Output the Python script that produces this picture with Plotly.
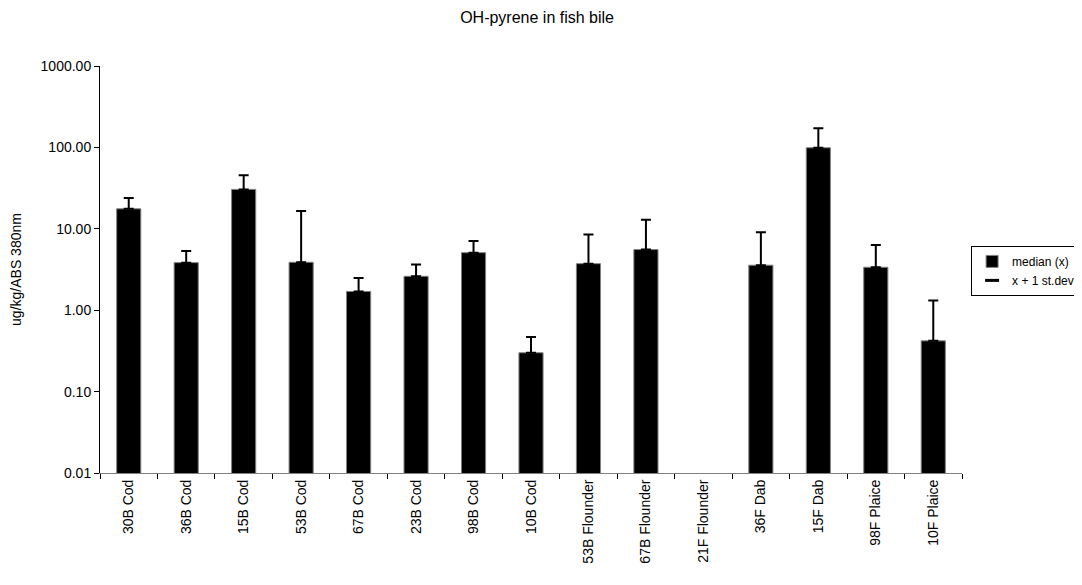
import plotly.graph_objects as go

categories = ["30B Cod", "36B Cod", "15B Cod", "53B Cod", "67B Cod", "23B Cod", "98B Cod",
              "10B Cod", "53B Flounder", "67B Flounder", "21F Flounder", "36F Dab", "15F Dab",
              "98F Plaice", "10F Plaice"]
median_x = [17.6, 3.84, 30.5, 3.88, 1.70, 2.61, 5.09, 0.30, 3.73, 5.56, None, 3.57, 99.0, 3.37, 0.42]
x_plus_sd = [23.9, 5.35, 45.5, 16.5, 2.48, 3.63, 7.1, 0.47, 8.5, 12.9, None, 9.1, 172.0, 6.34, 1.32]
ytick_vals = [0.01, 0.1, 1, 10, 100, 1000]

err_up = [(t - m) if (t is not None and m is not None) else None for m, t in zip(median_x, x_plus_sd)]

FONT = "Arial, Liberation Sans, sans-serif"

fig = go.Figure()
fig.add_trace(go.Bar(
    x=categories, y=median_x, name="median (x)",
    marker=dict(color="black", line=dict(color="#808080", width=1)),
    error_y=dict(type="data", symmetric=False, array=err_up,
                 arrayminus=[0] * len(err_up), color="black", thickness=2, width=5),
))
fig.add_trace(go.Scatter(
    x=[None], y=[None], mode="markers", name="x + 1 st.dev",
    marker=dict(symbol="line-ew", size=10, color="black", line=dict(color="black", width=3)),
))

fig.update_layout(
    width=1074, height=577,
    paper_bgcolor="white", plot_bgcolor="white",
    margin=dict(l=92, r=120, t=58, b=112, autoexpand=False),
    font=dict(family=FONT, size=14, color="black"),
    title=dict(text="OH-pyrene in fish bile", x=0.4926, xanchor="center", y=0.984, yanchor="middle",
               font=dict(family=FONT, size=16, color="black")),
    bargap=0.58,
    showlegend=True,
    legend=dict(x=1.137, xanchor="right", y=0.558, yanchor="top",
                bordercolor="black", borderwidth=1, bgcolor="white",
                font=dict(family=FONT, size=12), itemwidth=30, tracegroupgap=0),
)
fig.update_xaxes(
    showline=True, linecolor="#808080", linewidth=1,
    ticks="outside", tickson="boundaries", ticklen=5, tickcolor="black",
    tickangle=-90, tickfont=dict(family=FONT, size=14),
    showgrid=False, zeroline=False, automargin=False,
)
fig.update_yaxes(
    type="log", range=[-2, 3],
    showline=True, linecolor="black", linewidth=1,
    ticks="outside", ticklen=5, tickcolor="black",
    tickvals=ytick_vals, tickformat=".2f", tickfont=dict(family=FONT, size=14),
    showgrid=False, zeroline=False, automargin=False,
    title=dict(text="ug/kg/ABS 380nm", font=dict(family=FONT, size=14), standoff=20),
)

fig.write_html("out.html")
